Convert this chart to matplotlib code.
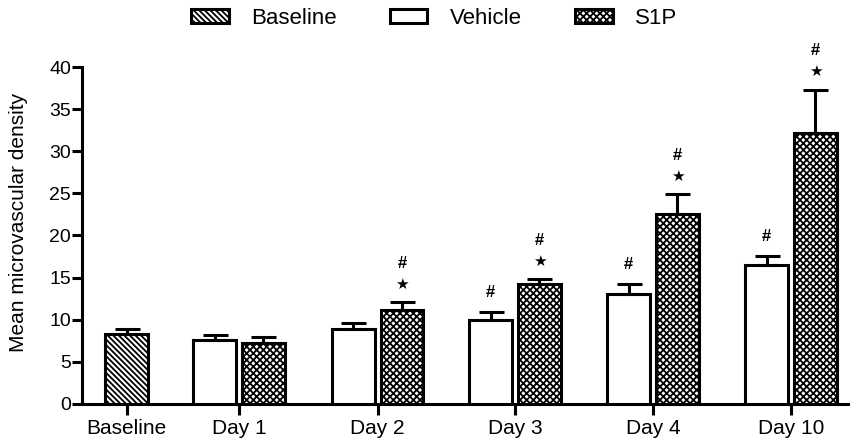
import matplotlib
matplotlib.use("Agg")
import matplotlib.pyplot as plt
from matplotlib.patches import Patch
import numpy as np

# data
groups = ["Baseline", "Day 1", "Day 2", "Day 3", "Day 4", "Day 10"]
group_pos = [0, 0.815, 1.82, 2.815, 3.815, 4.815]

baseline_mean = 8.3
baseline_err = 0.6

vehicle_mean = [7.6, 8.9, 10.0, 13.1, 16.5]
vehicle_err = [0.6, 0.7, 0.9, 1.1, 1.1]
s1p_mean = [7.2, 11.1, 14.2, 22.5, 32.2]
s1p_err = [0.7, 1.0, 0.6, 2.4, 5.1]

# significance marks per day (Day 1 .. Day 10)
vehicle_marks = ["", "", "#", "#", "#"]
s1p_marks = ["", "#*", "#*", "#*", "#*"]

plt.rcParams["font.family"] = ["Liberation Sans", "DejaVu Sans"]
plt.rcParams["hatch.linewidth"] = 1.3
plt.rcParams["hatch.color"] = "black"

lw = 2.2
bar_w = 0.31
off = 0.177
stripes = "\\" * 6
dots = "x" * 5

fig = plt.figure(figsize=(8.5, 4.42), dpi=100)
ax = fig.add_axes([0.0965, 0.086, 0.9035, 0.7624])

day_pos = np.array(group_pos[1:])
ekw = dict(elinewidth=lw, capthick=lw, ecolor="black")

ax.bar(group_pos[0], baseline_mean, bar_w, yerr=[[0], [baseline_err]],
       color="white", edgecolor="black", linewidth=lw, hatch=stripes,
       capsize=9, error_kw=ekw, zorder=3)
ax.bar(day_pos - off, vehicle_mean, bar_w,
       yerr=[np.zeros(len(vehicle_err)), vehicle_err],
       color="white", edgecolor="black", linewidth=lw,
       capsize=9, error_kw=ekw, zorder=3)
ax.bar(day_pos + off, s1p_mean, bar_w,
       yerr=[np.zeros(len(s1p_err)), s1p_err],
       color="white", edgecolor="black", linewidth=lw, hatch=dots,
       capsize=9, error_kw=ekw, zorder=3)

def put_marks(x, top, marks):
    if "*" in marks:
        ax.annotate("\u2605", (x, top), xytext=(0, 13), textcoords="offset points",
                    ha="center", va="center", fontsize=11, family="DejaVu Sans")
        ax.annotate("#", (x, top), xytext=(0, 28), textcoords="offset points",
                    ha="center", va="center", fontsize=12, fontweight="bold")
    elif "#" in marks:
        ax.annotate("#", (x, top), xytext=(0, 14), textcoords="offset points",
                    ha="center", va="center", fontsize=12, fontweight="bold")

for i in range(len(day_pos)):
    put_marks(day_pos[i] - off, vehicle_mean[i] + vehicle_err[i], vehicle_marks[i])
    put_marks(day_pos[i] + off, s1p_mean[i] + s1p_err[i], s1p_marks[i])

ax.set_xlim(-0.3225, 5.243)
ax.set_ylim(0, 40)
ax.set_yticks(range(0, 41, 5))
ax.set_xticks(group_pos)
ax.set_xticklabels(groups, fontsize=15)
ax.tick_params(axis="y", labelsize=14, width=lw, length=7, pad=1)
ax.tick_params(axis="x", width=lw, length=8, pad=3)
for s in ["top", "right"]:
    ax.spines[s].set_visible(False)
for s in ["left", "bottom"]:
    ax.spines[s].set_linewidth(lw)
ax.set_ylabel("Mean microvascular density", fontsize=15)
ax.yaxis.set_label_coords(-0.07, 0.54)

handles = [
    Patch(facecolor="white", edgecolor="black", linewidth=lw, hatch=stripes, label="Baseline"),
    Patch(facecolor="white", edgecolor="black", linewidth=lw, label="Vehicle"),
    Patch(facecolor="white", edgecolor="black", linewidth=lw, hatch=dots, label="S1P"),
]
fig.legend(handles=handles, loc="center", bbox_to_anchor=(434 / 850, 1 - 18 / 442),
           ncol=3, frameon=False, fontsize=16, handlelength=1.7, handleheight=0.6,
           handletextpad=1.0, columnspacing=2.4, borderaxespad=0)

fig.savefig("out.png", dpi=100)
